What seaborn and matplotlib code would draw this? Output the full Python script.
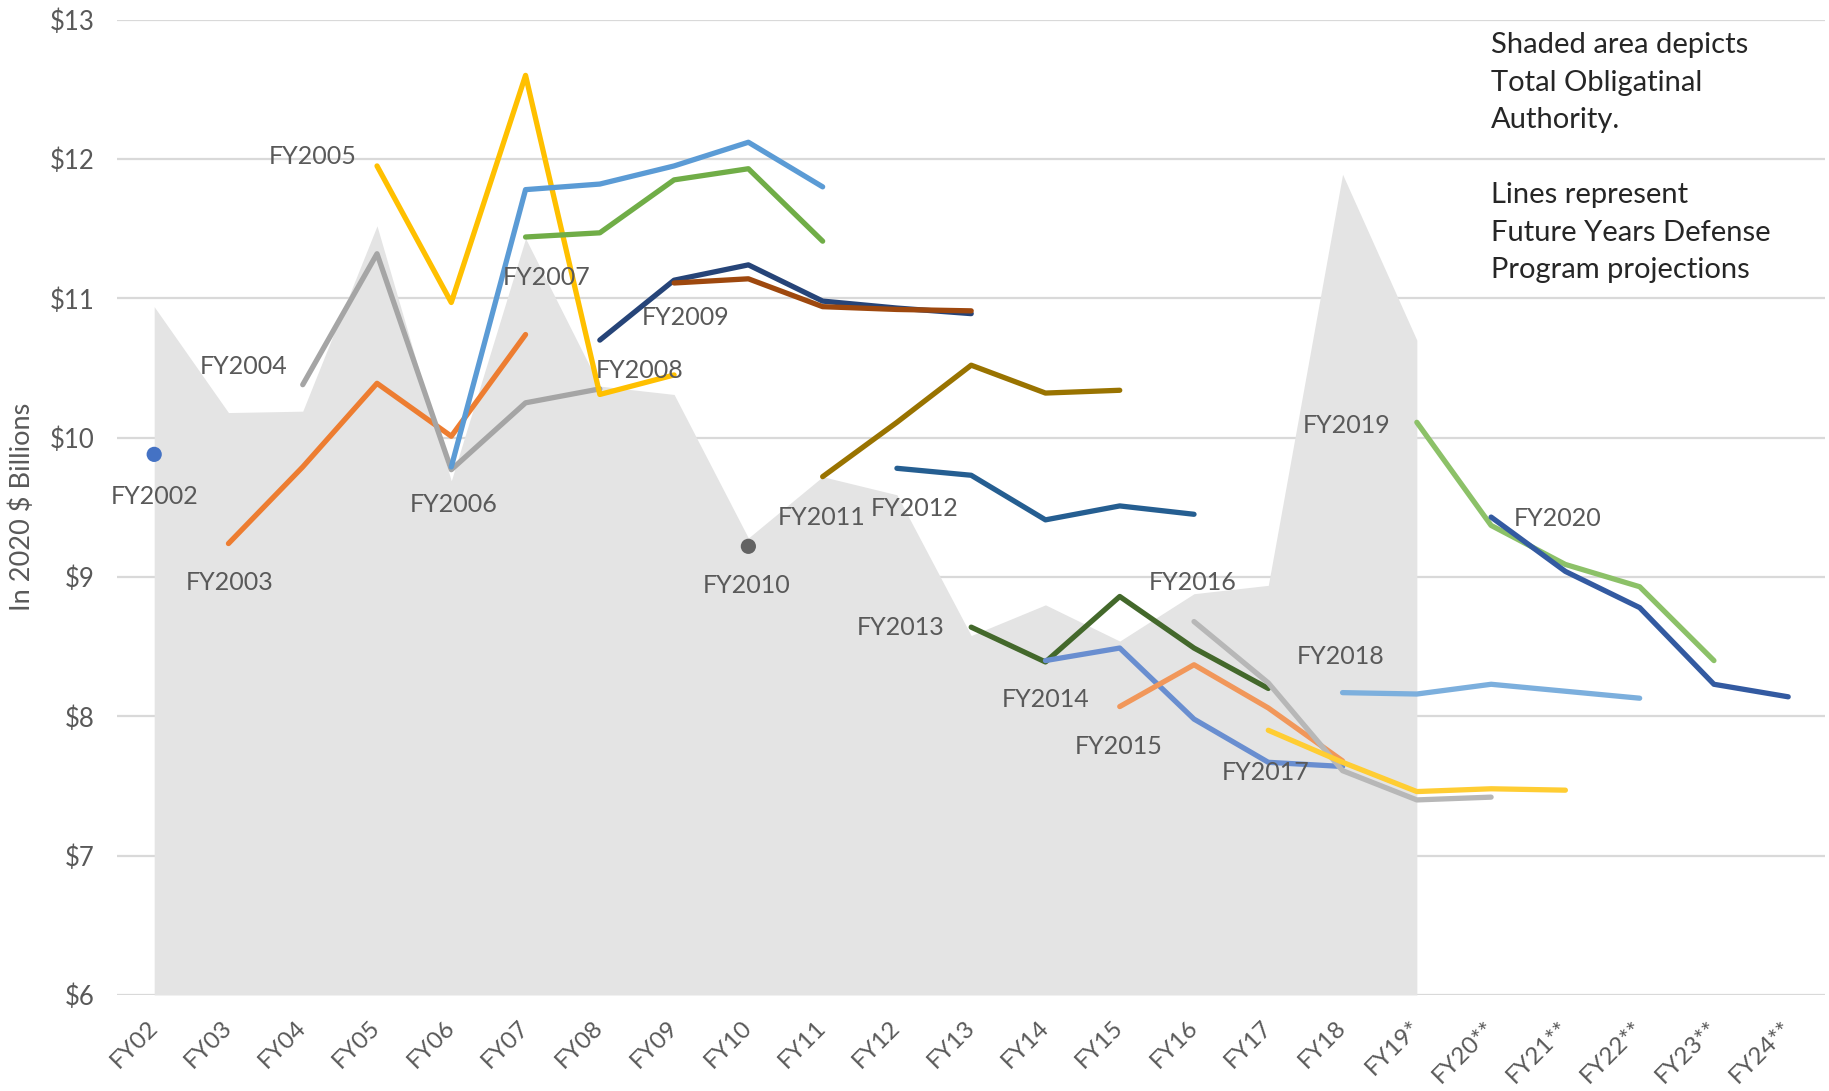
import pandas as pd
import matplotlib.pyplot as plt
import seaborn as sns

sns.set_theme(style="white")
plt.rcParams['font.family'] = ['Lato', 'DejaVu Sans']

# x-axis categories
fy_ticks = ["FY02", "FY03", "FY04", "FY05", "FY06", "FY07", "FY08", "FY09",
            "FY10", "FY11", "FY12", "FY13", "FY14", "FY15", "FY16", "FY17",
            "FY18", "FY19*", "FY20**", "FY21**", "FY22**", "FY23**", "FY24**"]

# Total Obligational Authority (shaded area), FY02 .. FY19*
toa = [10.94, 10.18, 10.19, 11.52, 9.69, 11.43, 10.37, 10.31, 9.28, 9.72,
       9.59, 8.58, 8.80, 8.54, 8.88, 8.94, 11.89, 10.70]

# FYDP projections: each list starts at its own budget year
fy2002 = [9.88]
fy2003 = [9.24, 9.79, 10.39, 10.01, 10.74]
fy2004 = [10.38, 11.32, 9.77, 10.25, 10.35]
fy2005 = [11.95, 10.97, 12.60, 10.31, 10.45]
fy2006 = [9.79, 11.78, 11.82, 11.95, 12.12, 11.80]
fy2007 = [11.44, 11.47, 11.85, 11.93, 11.41]
fy2008 = [10.70, 11.13, 11.24, 10.98, 10.93, 10.89]
fy2009 = [11.11, 11.14, 10.94, 10.92, 10.91]
fy2010 = [9.22]
fy2011 = [9.72, 10.11, 10.52, 10.32, 10.34]
fy2012 = [9.78, 9.73, 9.41, 9.51, 9.45]
fy2013 = [8.64, 8.39, 8.86, 8.49, 8.20]
fy2014 = [8.40, 8.49, 7.98, 7.67, 7.64]
fy2015 = [8.07, 8.37, 8.06, 7.68]
fy2016 = [8.68, 8.24, 7.61, 7.40, 7.42]
fy2017 = [7.90, 7.67, 7.46, 7.48, 7.47]
fy2018 = [8.17, 8.16, 8.23, 8.18, 8.13]
fy2019 = [10.11, 9.37, 9.09, 8.93, 8.40]
fy2020 = [9.43, 9.04, 8.78, 8.23, 8.14]

projections = {
    "FY2002": (0, fy2002), "FY2003": (1, fy2003), "FY2004": (2, fy2004),
    "FY2005": (3, fy2005), "FY2006": (4, fy2006), "FY2007": (5, fy2007),
    "FY2008": (6, fy2008), "FY2009": (7, fy2009), "FY2010": (8, fy2010),
    "FY2011": (9, fy2011), "FY2012": (10, fy2012), "FY2013": (11, fy2013),
    "FY2014": (12, fy2014), "FY2015": (13, fy2015), "FY2016": (14, fy2016),
    "FY2017": (15, fy2017), "FY2018": (16, fy2018), "FY2019": (17, fy2019),
    "FY2020": (18, fy2020),
}

colors = {
    "FY2002": "#4472C4", "FY2003": "#ED7D31", "FY2004": "#A5A5A5",
    "FY2005": "#FFC000", "FY2006": "#5B9BD5", "FY2007": "#70AD47",
    "FY2008": "#264478", "FY2009": "#9E480E", "FY2010": "#636363",
    "FY2011": "#997300", "FY2012": "#255E91", "FY2013": "#43682B",
    "FY2014": "#698ED0", "FY2015": "#F1975A", "FY2016": "#B7B7B7",
    "FY2017": "#FFCD33", "FY2018": "#7CAFDD", "FY2019": "#8CC168",
    "FY2020": "#335AA1",
}

# label anchor (category index, value) for each projection name
label_pos = {
    "FY2002": (0.0, 9.58), "FY2003": (1.02, 8.96), "FY2004": (1.2, 10.51),
    "FY2005": (2.14, 12.02), "FY2006": (4.03, 9.52), "FY2007": (5.28, 11.15),
    "FY2008": (6.54, 10.48), "FY2009": (7.16, 10.86), "FY2010": (7.98, 8.94),
    "FY2011": (8.98, 9.43), "FY2012": (10.24, 9.49), "FY2013": (10.05, 8.64),
    "FY2014": (12.0, 8.12), "FY2015": (12.98, 7.78), "FY2016": (13.98, 8.96),
    "FY2017": (14.96, 7.60), "FY2018": (15.98, 8.43), "FY2019": (16.06, 10.09),
    "FY2020": (18.9, 9.42),
}

rows = []
for name, (start, vals) in projections.items():
    for i, v in enumerate(vals):
        rows.append({"x": start + i, "value": v, "projection": name})
df = pd.DataFrame(rows)
counts = df.groupby("projection")["x"].transform("count")
lines_df = df[counts > 1]
dots_df = df[counts == 1]

fig, ax = plt.subplots(figsize=(18.29, 10.91), dpi=100)
fig.subplots_adjust(left=0.064, right=0.998, top=0.982, bottom=0.088)

ax.fill_between(range(len(toa)), toa, 6, color="#E4E4E4", linewidth=0, zorder=1)

line_order = [n for n in projections if n in set(lines_df["projection"])]
sns.lineplot(data=lines_df, x="x", y="value", hue="projection", hue_order=line_order,
             palette=colors, linewidth=3.8, legend=False, sort=False, ax=ax, zorder=3)
for ln in ax.get_lines():
    ln.set_solid_joinstyle("round")
sns.scatterplot(data=dots_df, x="x", y="value", hue="projection", palette=colors,
                s=120, edgecolor="none", legend=False, ax=ax, zorder=4)

label_color = "#595959"
for name, (lx, ly) in label_pos.items():
    ax.text(lx, ly, name, ha="center", va="center", fontsize=18, color=label_color, zorder=5)

ax.text(18.0, 12.91,
        "Shaded area depicts\nTotal Obligatinal\nAuthority.\n\nLines represent\n"
        "Future Years Defense\nProgram projections",
        ha="left", va="top", fontsize=21, color="#262626", linespacing=1.55, zorder=5)

ax.set_xlim(-0.5, len(fy_ticks) - 0.5)
ax.set_ylim(6, 13)
ax.set_xticks(range(len(fy_ticks)))
ax.set_xticklabels(fy_ticks, rotation=45, ha="right", va="center",
                   rotation_mode="anchor", fontsize=17.5, color=label_color)
ax.set_yticks(range(6, 14))
ax.set_yticklabels([f"${v}" for v in range(6, 14)], fontsize=18.5, color=label_color)
ax.tick_params(axis="both", length=0)
ax.tick_params(axis="x", pad=21)
ax.tick_params(axis="y", pad=16)

ax.set_xlabel("")
ax.set_ylabel("In 2020 $ Billions", fontsize=19.5, color=label_color)
ax.yaxis.set_label_coords(-0.048, 0.5)

ax.set_axisbelow(True)
ax.yaxis.grid(True, color="#D9D9D9", linewidth=1.6, zorder=0)
ax.xaxis.grid(False)
for sp in ax.spines.values():
    sp.set_visible(False)

fig.savefig("out.png", dpi=100)
